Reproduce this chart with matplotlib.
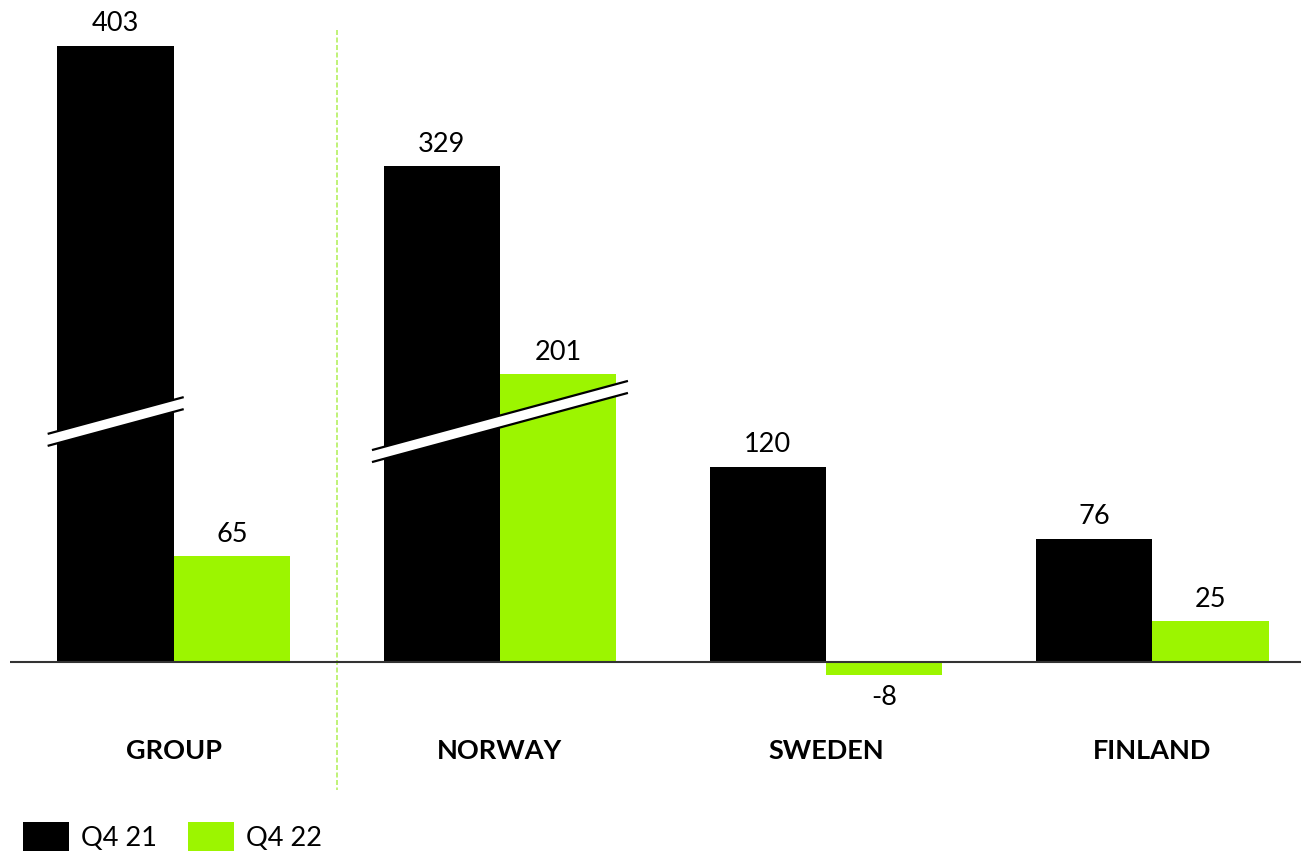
import numpy as np
import matplotlib.pyplot as plt
from matplotlib.patches import Polygon

plt.rcParams['font.family'] = ['Lato', 'DejaVu Sans']

categories = ['GROUP', 'NORWAY', 'SWEDEN', 'FINLAND']
series_names = ['Q4 21', 'Q4 22']
q4_21 = [403, 329, 120, 76]
q4_22 = [65, 201, -8, 25]
# bars shown on a broken axis (the amount below is cut out of them)
broken_21 = [True, True, False, False]
broken_22 = [False, True, False, False]
axis_cut = 24

BLACK = '#000000'
GREEN = '#9CF500'

W, H = 1301, 851
fig = plt.figure(figsize=(W / 100, H / 100), dpi=100)
ax = fig.add_axes([10 / W, 0, 1 - 10 / W, 1])

px_x = 1 / 326.3     # data units per pixel, horizontally
px_y = 1 / 1.625     # data units per pixel, vertically
ax.set_xlim(-164 * px_x, 3 + 149 * px_x)
ax.set_ylim(-(H - 662) * px_y, 662 * px_y)
ax.axis('off')

x = np.arange(len(categories))
bw = 116.5 * px_x


def shown(vals, brk):
    return [v - axis_cut if b else v for v, b in zip(vals, brk)]


bars21 = ax.bar(x - bw / 2, shown(q4_21, broken_21), bw, color=BLACK, label=series_names[0])
bars22 = ax.bar(x + bw / 2, shown(q4_22, broken_22), bw, color=GREEN, label=series_names[1])

for bars, vals in [(bars21, q4_21), (bars22, q4_22)]:
    for b, v in zip(bars, vals):
        top = b.get_height()
        off = 7 if v >= 0 else -7
        ax.annotate(str(v), (b.get_x() + b.get_width() / 2, top), xytext=(0, off),
                    textcoords='offset points', ha='center',
                    va='bottom' if v >= 0 else 'top', fontsize=19.5)

ax.axhline(0, color='#333333', lw=1.5, zorder=3)

for xi, name in zip(x, categories):
    ax.text(xi, -(751 - 662) * px_y, name, ha='center', va='center',
            fontsize=19.5, fontweight='bold')

# separator between group total and the countries
ax.plot([0.5, 0.5], [(662 - 30) * px_y, -(790 - 662) * px_y], color='#B5F060',
        lw=1.2, ls=(0, (3, 1.5)), zorder=1)


def break_mark(cx, half_len):
    slope = 0.27
    thick = 12
    cy = 148
    x0, x1 = cx - half_len * px_x, cx + half_len * px_x
    y0 = cy - slope * half_len * px_y
    y1 = cy + slope * half_len * px_y
    d = thick / 2 * px_y
    poly = Polygon([(x0, y0 + d), (x1, y1 + d), (x1, y1 - d), (x0, y0 - d)],
                   closed=True, facecolor='white', edgecolor='none', zorder=4)
    ax.add_patch(poly)
    ax.plot([x0, x1], [y0 + d, y1 + d], color=BLACK, lw=1.6, zorder=5)
    ax.plot([x0, x1], [y0 - d, y1 - d], color=BLACK, lw=1.6, zorder=5)


break_mark(x[0] - bw / 2, 67)
break_mark(x[1], 127)

fig.legend(handles=[bars21, bars22], labels=series_names, loc='lower left',
           bbox_to_anchor=(23 / W, 0), borderpad=0, borderaxespad=0, ncol=2,
           frameon=False, fontsize=19.5, handlelength=1.7, handleheight=1.25,
           handletextpad=0.45, columnspacing=1.15)

fig.savefig('out.png', dpi=100)
